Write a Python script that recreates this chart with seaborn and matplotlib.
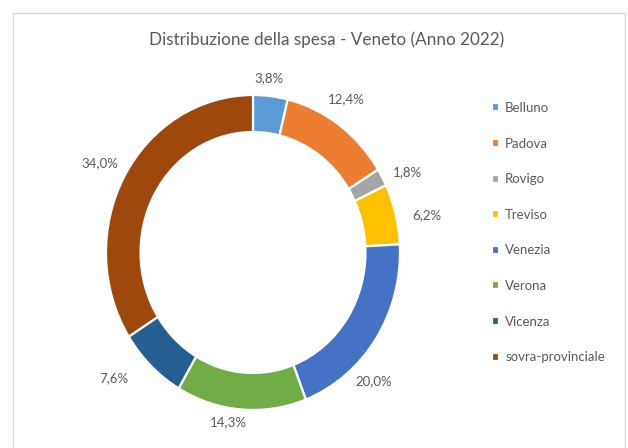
import matplotlib
matplotlib.use("Agg")
import matplotlib.pyplot as plt
from matplotlib.patches import Rectangle
import seaborn as sns

# Spending share by province, Veneto 2022
provinces = ["Belluno", "Padova", "Rovigo", "Treviso", "Venezia",
             "Verona", "Vicenza", "sovra-provinciale"]
shares = [3.8, 12.4, 1.8, 6.2, 20.0, 14.3, 7.6, 34.0]
palette_hex = ["#5B9BD5", "#ED7D31", "#A5A5A5", "#FFC000", "#4472C4",
               "#70AD47", "#255E91", "#9E480E"]
title = "Distribuzione della spesa - Veneto (Anno 2022)"

# small nudges (pixels, right/down) so the value labels sit clear of the ring
label_nudges = [(-5, 9), (-8, -4), (3, 8), (7, 8), (-23, 28),
                (-11, -14), (-20, -7), (-3, 0)]

sns.set_theme(style="white")
plt.rcParams["font.family"] = ["Lato", "DejaVu Sans"]
text_gray = "#595959"

W, H = 628, 448
fig = plt.figure(figsize=(W / 100, H / 100), dpi=100)

# chart frame
fig.patches.append(Rectangle((13 / W, -0.05), (625 - 13) / W, 1.05 - 13 / H,
                             transform=fig.transFigure, fill=False,
                             edgecolor="#D9D9D9", linewidth=1.0))

# ring area (slightly taller than wide)
cx, cy, rx, ry = 253, 252.5, 147, 157.5
ax = fig.add_axes([(cx - rx) / W, (H - cy - ry) / H, 2 * rx / W, 2 * ry / H])

colors = sns.color_palette(palette_hex)
wedges, _, autotexts = ax.pie(
    shares, colors=colors, startangle=90, counterclock=False,
    wedgeprops=dict(width=0.235, edgecolor="white", linewidth=1.6),
    autopct=lambda p: f"{p:.1f}%".replace(".", ","),
    pctdistance=1.17,
    textprops=dict(color=text_gray, fontsize=9.5),
)
ax.set_aspect("auto")
ax.set_xlim(-1, 1)
ax.set_ylim(-1, 1)
ax.axis("off")

for t, v, (dx, dy) in zip(autotexts, shares, label_nudges):
    t.set_text(f"{v:.1f}%".replace(".", ","))
    x, y = t.get_position()
    t.set_position((x + dx / rx, y - dy / ry))

fig.text(327 / W, 1 - 40 / H, title, ha="center", va="center",
         fontsize=12.3, color=text_gray)

fig.legend(wedges, provinces, loc="upper left",
           bbox_to_anchor=(492 / W, 1 - 102 / H), frameon=False,
           fontsize=9.5, labelcolor=text_gray,
           handlelength=0.55, handleheight=0.55, handletextpad=0.45,
           labelspacing=1.79, borderpad=0, borderaxespad=0)

fig.savefig("out.png", dpi=100, facecolor="white")
